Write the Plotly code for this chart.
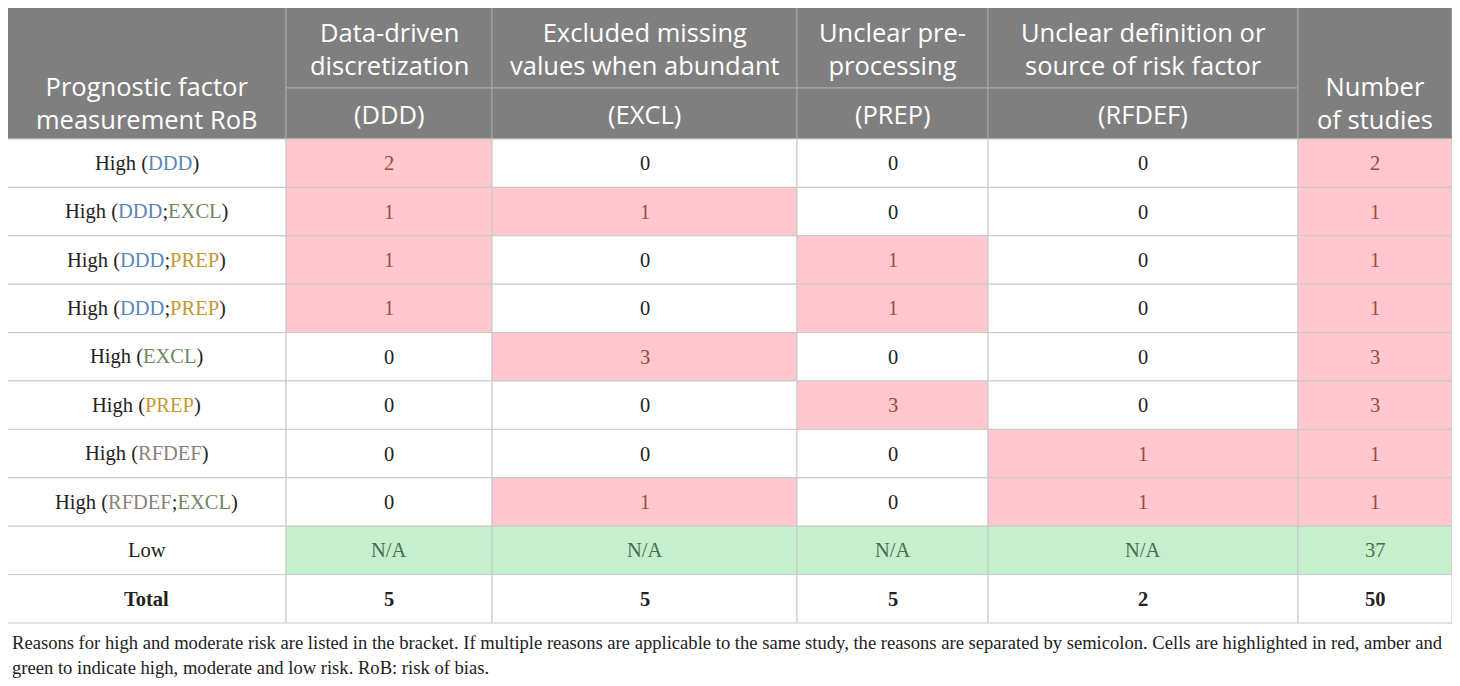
import plotly.graph_objects as go

# ---- data ----
rob_levels = ["High", "High", "High", "High", "High", "High", "High", "High", "Low"]
reasons = [["DDD"], ["DDD", "EXCL"], ["DDD", "PREP"], ["DDD", "PREP"], ["EXCL"],
           ["PREP"], ["RFDEF"], ["RFDEF", "EXCL"], []]
first_header = ["Prognostic factor", "measurement RoB"]
header_top = [["Data-driven", "discretization"], ["Excluded missing", "values when abundant"],
              ["Unclear pre-", "processing"], ["Unclear definition or", "source of risk factor"]]
header_codes = ["(DDD)", "(EXCL)", "(PREP)", "(RFDEF)"]
last_header = ["Number", "of studies"]
ddd = [2, 1, 1, 1, 0, 0, 0, 0]
excl = [0, 1, 0, 0, 3, 0, 0, 1]
prep = [0, 0, 1, 1, 0, 3, 0, 0]
rfdef = [0, 0, 0, 0, 0, 0, 1, 1]
n_studies = [2, 1, 1, 1, 3, 3, 1, 1]
low_studies = 37
totals = [5, 5, 5, 2, 50]
caption = ["Reasons for high and moderate risk are listed in the bracket. If multiple reasons are applicable to the same study, "
           "the reasons are separated by semicolon. Cells are highlighted in red, amber and",
           "green to indicate high, moderate and low risk. RoB: risk of bias."]

# ---- styles / geometry ----
col_edges = [7, 286, 492, 797, 988, 1298, 1452]
y_top, y_mid, y_head = 7, 88, 139
row_h = 48.4
page_offset = 8  # body margin of the html page
header_bg = "#7f7f7f"
header_line = "#a8a8a8"
grid_line = "#c8c8c8"
pink, pink_txt = "#ffc7ce", "#9c4a3c"
green, green_txt = "#c6efce", "#46704f"
code_colors = {"DDD": "#5b86b8", "EXCL": "#6f8862", "PREP": "#c49a2c", "RFDEF": "#8d7f7a"}
serif = "Liberation Serif"
sans = "Open Sans"
head_size = 25.5
body_size = 20.5

fig = go.Figure()
shapes = []
annots = []


def cell(x0, x1, y0, y1, fill, line):
    shapes.append(dict(type="rect", xref="x", yref="y", x0=x0, x1=x1, y0=y0, y1=y1,
                       fillcolor=fill, line=dict(color=line, width=1), layer="below"))


def text(x, y, s, size, color, family, anchor="center"):
    annots.append(dict(x=x, y=y, xref="x", yref="y", text=s, showarrow=False,
                       font=dict(size=size, color=color, family=family), xanchor=anchor, yanchor="middle"))


def head_lines(x, yc, lines):
    text(x, yc, "<br>".join(lines), head_size, "white", sans)


#  Header
cell(col_edges[0], col_edges[1], y_top, y_head, header_bg, header_line)
head_lines((col_edges[0] + col_edges[1]) / 2, 102, first_header)
for j in range(4):
    x0, x1 = col_edges[j + 1], col_edges[j + 2]
    cell(x0, x1, y_top, y_mid, header_bg, header_line)
    cell(x0, x1, y_mid, y_head, header_bg, header_line)
    head_lines((x0 + x1) / 2, 48, header_top[j])
    head_lines((x0 + x1) / 2, 114, [header_codes[j]])
cell(col_edges[5], col_edges[6], y_top, y_head, header_bg, header_line)
head_lines((col_edges[5] + col_edges[6]) / 2, 102, last_header)

#  Body
value_cols = [ddd, excl, prep, rfdef, n_studies]
for i, level in enumerate(rob_levels):
    y0 = y_head + i * row_h
    y1 = y0 + row_h
    yc = (y0 + y1) / 2
    cell(col_edges[0], col_edges[1], y0, y1, "white", grid_line)
    if reasons[i]:
        parts = ";".join(f"<span style='color:{code_colors[r]}'>{r}</span>" for r in reasons[i])
        label = f"{level} ({parts})"
    else:
        label = level
    text((col_edges[0] + col_edges[1]) / 2, yc, label, body_size, "#222222", serif)
    for j, col in enumerate(value_cols):
        x0, x1 = col_edges[j + 1], col_edges[j + 2]
        if i < len(col):
            v = col[i]
            fill, tc = (pink, pink_txt) if v > 0 else ("white", "#222222")
            s = str(v)
        else:
            fill, tc = green, green_txt
            s = str(low_studies) if j == 4 else "N/A"
        cell(x0, x1, y0, y1, fill, grid_line)
        text((x0 + x1) / 2, yc, s, body_size, tc, serif)

#  Total row
y0 = y_head + len(rob_levels) * row_h
y1 = y0 + row_h
cell(col_edges[0], col_edges[1], y0, y1, "white", grid_line)
text((col_edges[0] + col_edges[1]) / 2, (y0 + y1) / 2, "<b>Total</b>", body_size, "#222222", serif)
for j, t in enumerate(totals):
    cell(col_edges[j + 1], col_edges[j + 2], y0, y1, "white", grid_line)
    text((col_edges[j + 1] + col_edges[j + 2]) / 2, (y0 + y1) / 2, f"<b>{t}</b>", body_size, "#222222", serif)

#  Caption (anchor kept inside the visible x range)
for k, ln in enumerate(caption):
    text(col_edges[0] + 3, y1 + 19 + k * 25, ln, 18.6, "#222222", serif, anchor="left")

fig.update_layout(
    width=1460, height=686,
    margin=dict(l=0, r=0, t=0, b=0),
    plot_bgcolor="white", paper_bgcolor="white",
    shapes=shapes, annotations=annots,
    xaxis=dict(range=[page_offset, 1460 + page_offset], visible=False, fixedrange=True),
    yaxis=dict(range=[686 + page_offset, page_offset], visible=False, fixedrange=True),
    showlegend=False)
fig.write_html("out.html")
